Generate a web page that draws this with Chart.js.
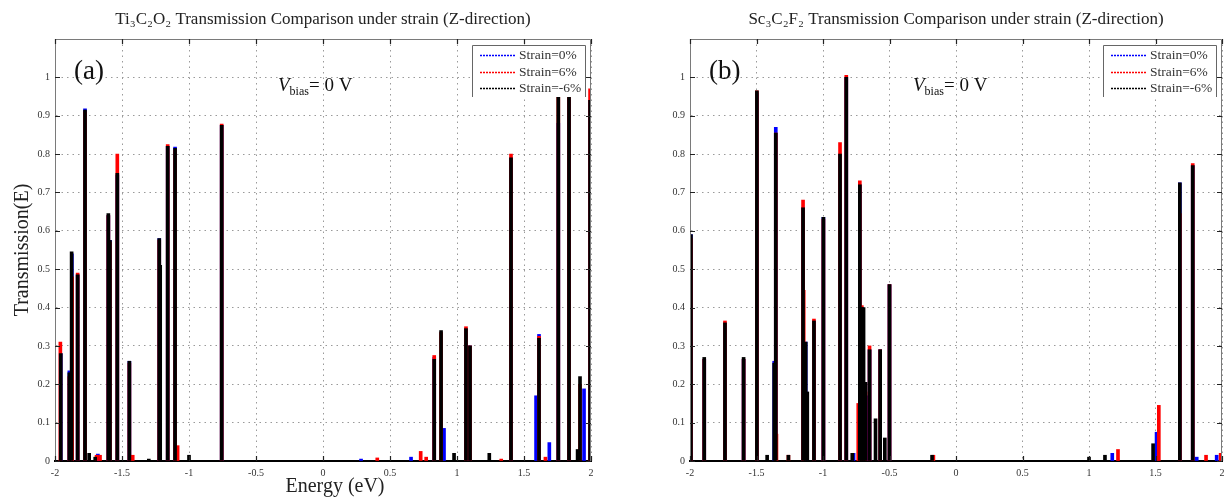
<!DOCTYPE html>
<html><head><meta charset="utf-8">
<script src="https://cdn.jsdelivr.net/npm/chart.js@4.4.1/dist/chart.umd.min.js"></script>
<style>
html,body{margin:0;padding:0;background:#fff;width:1225px;height:498px;overflow:hidden}
#wrapA{position:absolute;left:0;top:0;width:612px;height:498px}
#wrapB{position:absolute;left:612px;top:0;width:613px;height:498px}
</style></head><body>
<div id="wrapA"><canvas id="chartA" width="612" height="498"></canvas></div>
<div id="wrapB"><canvas id="chartB" width="613" height="498"></canvas></div>
<script>
// ---------- text ----------
const seriesLabels = ['Strain=0%', 'Strain=6%', 'Strain=-6%'];
const titleA = 'Ti\u2083C\u2082O\u2082 Transmission Comparison under strain (Z-direction)';
const titleB = 'Sc\u2083C\u2082F\u2082 Transmission Comparison under strain (Z-direction)';
const panelA = '(a)';
const panelB = '(b)';
const xAxisTitle = 'Energy (eV)';
const yAxisTitle = 'Transmission(E)';

// ---------- Ti3C2O2 : peak energies (eV) and transmission ----------
const tiE_s0 = [-1.957,-1.893,-1.874,-1.831,-1.776,-1.68,-1.602,-1.590,-1.535,-1.445,-1.222,-1.159,-1.104,-0.756,0.284,0.657,0.83,0.903,1.067,1.097,1.403,1.59,1.612,1.689,1.756,1.836,1.948,1.993];
const tiT_s0 = [0.28,0.235,0.54,0.485,0.918,0.018,0.64,0.575,0.745,0.26,0.58,0.82,0.818,0.875,0.005,0.01,0.27,0.085,0.345,0.30,0.79,0.17,0.33,0.048,0.88,0.945,0.188,0.94];

const tiE_s6 = [-1.960,-1.893,-1.872,-1.831,-1.776,-1.69,-1.664,-1.602,-1.590,-1.535,-1.445,-1.42,-1.222,-1.159,-1.104,-1.085,-0.756,0.405,0.729,0.77,0.83,0.881,1.067,1.097,1.33,1.403,1.612,1.66,1.756,1.836,1.918,1.993];
const tiT_s6 = [0.31,0.22,0.48,0.49,0.91,0.015,0.015,0.64,0.57,0.80,0.255,0.015,0.575,0.825,0.81,0.04,0.878,0.008,0.025,0.01,0.275,0.335,0.35,0.30,0.005,0.80,0.325,0.01,0.95,0.95,0.20,0.97];

const tiE_sm6 = [-1.957,-1.893,-1.876,-1.831,-1.776,-1.745,-1.70,-1.602,-1.590,-1.535,-1.445,-1.30,-1.222,-1.215,-1.159,-1.104,-1.00,-0.756,0.83,0.881,0.978,1.067,1.097,1.241,1.403,1.612,1.756,1.836,1.90,1.918,1.993];
const tiT_sm6 = [0.28,0.23,0.545,0.485,0.915,0.02,0.01,0.645,0.575,0.75,0.26,0.005,0.58,0.51,0.82,0.815,0.015,0.875,0.265,0.34,0.02,0.345,0.30,0.02,0.79,0.32,0.95,0.95,0.03,0.22,0.94];

// ---------- Sc3C2F2 : peak energies (eV) and transmission ----------
const scE_s0 = [-1.993,-1.893,-1.737,-1.597,-1.497,-1.367,-1.355,-1.15,-1.13,-1.068,-0.997,-0.872,-0.825,-0.77,-0.723,-0.708,-0.67,-0.65,-0.57,-0.5,1.175,1.508,1.683,1.78,1.81,1.96];
const scT_s0 = [0.59,0.265,0.36,0.265,0.96,0.26,0.87,0.66,0.31,0.365,0.635,0.80,1.0,0.02,0.72,0.40,0.17,0.29,0.29,0.46,0.02,0.075,0.725,0.77,0.01,0.015];

const scE_s6 = [-1.993,-1.893,-1.737,-1.597,-1.497,-1.355,-1.35,-1.26,-1.15,-1.145,-1.068,-0.997,-0.872,-0.825,-0.735,-0.723,-0.708,-0.68,-0.65,-0.57,-0.5,-0.17,1.218,1.525,1.683,1.78,1.88,1.99];
const scT_s6 = [0.58,0.265,0.365,0.265,0.965,0.855,0.07,0.015,0.68,0.445,0.37,0.63,0.83,1.005,0.15,0.73,0.405,0.18,0.30,0.29,0.46,0.015,0.03,0.145,0.645,0.775,0.015,0.02];

const scE_sm6 = [-1.993,-1.893,-1.737,-1.597,-1.497,-1.42,-1.367,-1.355,-1.26,-1.15,-1.13,-1.118,-1.068,-0.997,-0.872,-0.825,-0.78,-0.723,-0.708,-0.695,-0.68,-0.65,-0.605,-0.57,-0.535,-0.5,-0.18,1.0,1.12,1.482,1.683,1.78];
const scT_sm6 = [0.59,0.27,0.36,0.27,0.965,0.015,0.255,0.855,0.015,0.66,0.31,0.18,0.365,0.635,0.80,1.0,0.02,0.72,0.40,0.40,0.205,0.29,0.11,0.29,0.06,0.46,0.015,0.01,0.015,0.045,0.725,0.77];

// ---------- axis ranges ----------
const xMin = -2, xMax = 2, xStep = 0.5;
const yMin = 0, yMax = 1.1, yStep = 0.1, yTickTop = 1.0;

// ---------- styles ----------
const seriesColors = ['#0000ff', '#ff0000', '#000000'];
const serif = "'Liberation Serif', 'DejaVu Serif', serif";

function pts(E, T) { return E.map((e, i) => ({ x: e, y: T[i] })); }
function fmt(v) { return String(Number(Number(v).toFixed(2))); }

const decorPlugin = {
  id: 'decor',
  afterDatasetsDraw(chart, args, o) {
    const { ctx, chartArea: a, scales: { x, y } } = chart;
    ctx.save();
    ctx.strokeStyle = '#7a7a7a'; ctx.lineWidth = 1;
    ctx.beginPath();
    ctx.moveTo(a.left + 0.5, a.bottom); ctx.lineTo(a.left + 0.5, a.top + 0.5);
    ctx.lineTo(a.right - 0.5, a.top + 0.5); ctx.lineTo(a.right - 0.5, a.bottom);
    ctx.stroke();
    ctx.strokeStyle = '#222'; ctx.lineWidth = 1.2;
    ctx.beginPath();
    x.ticks.forEach(t => {
      const px = Math.round(x.getPixelForValue(t.value)) + 0.5;
      ctx.moveTo(px, a.top); ctx.lineTo(px, a.top + 5);
      ctx.moveTo(px, a.bottom); ctx.lineTo(px, a.bottom - 5);
    });
    y.ticks.forEach(t => {
      const py = Math.round(y.getPixelForValue(t.value)) + 0.5;
      ctx.moveTo(a.left, py); ctx.lineTo(a.left + 5, py);
      ctx.moveTo(a.right, py); ctx.lineTo(a.right - 5, py);
    });
    ctx.stroke();
    ctx.restore();
  },
  afterDraw(chart, args, o) {
    const { ctx, chartArea: a, scales: { x } } = chart;
    ctx.save();
    // chart title
    ctx.fillStyle = '#222';
    ctx.font = '17px ' + serif;
    ctx.textAlign = 'center'; ctx.textBaseline = 'middle';
    ctx.fillText(o.title, (a.left + a.right) / 2, 20);
    // x axis title
    if (o.xTitle) {
      ctx.font = '20px ' + serif;
      ctx.fillText(xAxisTitle, x.getPixelForValue(0) + 12, 487);
    }
    // panel label
    ctx.font = '27px ' + serif;
    ctx.textAlign = 'left'; ctx.textBaseline = 'alphabetic';
    ctx.fillStyle = '#111';
    ctx.fillText(o.panel, a.left + 19, 79);
    // V_bias = 0 V
    let vx = a.left + 223; const vy = 91;
    ctx.font = 'italic 19px ' + serif;
    ctx.fillText('V', vx, vy); vx += ctx.measureText('V').width;
    ctx.font = '12px ' + serif;
    ctx.fillText('bias', vx, vy + 4); vx += ctx.measureText('bias').width;
    ctx.font = '19px ' + serif;
    ctx.fillText('= 0 V', vx, vy);
    // legend
    const bl = a.right - 119, br = a.right - 5, bt = 45, bb = 97;
    ctx.fillStyle = '#fff';
    ctx.fillRect(bl, bt, br - bl, bb - bt);
    ctx.strokeStyle = '#666'; ctx.lineWidth = 1;
    ctx.beginPath();
    ctx.moveTo(bl + 0.5, bb); ctx.lineTo(bl + 0.5, bt + 0.5); ctx.lineTo(br - 0.5, bt + 0.5); ctx.lineTo(br - 0.5, bb);
    ctx.stroke();
    const rows = [55, 72, 88];
    chart.data.datasets.slice().sort((p, q) => p.legendIndex - q.legendIndex).forEach((ds, i) => {
      const yy = rows[i];
      ctx.strokeStyle = ds.backgroundColor; ctx.lineWidth = 1.6;
      ctx.setLineDash([2, 1]);
      ctx.beginPath(); ctx.moveTo(bl + 8, yy + 0.5); ctx.lineTo(bl + 44, yy + 0.5); ctx.stroke();
      ctx.setLineDash([]);
      ctx.fillStyle = '#333';
      ctx.font = '13.5px ' + serif;
      ctx.textBaseline = 'middle';
      ctx.fillText(ds.label, bl + 47, yy);
    });
    ctx.restore();
  }
};

function makeChart(id, series, o) {
  const datasets = series.map((s, i) => ({
    label: seriesLabels[i],
    legendIndex: i,
    data: pts(s[0], s[1]),
    backgroundColor: seriesColors[i],
    borderWidth: 0,
    barThickness: 3,
    grouped: false,
    order: 3 - i
  }));
  return new Chart(document.getElementById(id), {
    type: 'bar',
    data: { datasets },
    plugins: [decorPlugin],
    options: {
      responsive: false,
      animation: false,
      devicePixelRatio: 1,
      layout: { padding: { top: 39, right: o.padRight, left: 0, bottom: 0 } },
      plugins: {
        legend: { display: false },
        title: { display: false },
        tooltip: { enabled: false },
        decor: { title: o.title, panel: o.panel, xTitle: o.xTitle }
      },
      scales: {
        x: {
          type: 'linear', min: xMin, max: xMax, offset: false,
          ticks: { stepSize: xStep, padding: 6, color: '#333', font: { family: serif, size: 10 }, callback: v => fmt(v) },
          grid: { color: '#9a9a9a', lineWidth: 1, drawTicks: false, offset: false },
          border: { color: '#000', width: 2, dash: [1.5, 4] },
          afterFit: s => { s.height = 37; s.paddingLeft = 0; s.paddingRight = 0; }
        },
        y: {
          min: yMin, max: yMax,
          ticks: { stepSize: yStep, padding: 5, color: '#333', font: { family: serif, size: 10 }, callback: v => fmt(v) },
          afterBuildTicks: s => { s.ticks = s.ticks.filter(t => t.value <= yTickTop + 1e-9); },
          grid: { color: '#9a9a9a', lineWidth: 1, drawTicks: false },
          border: { color: '#7a7a7a', width: 1, dash: [1.5, 4] },
          title: { display: o.yTitle, text: yAxisTitle, color: '#222', font: { family: serif, size: 20 }, padding: { top: 11, bottom: 0 } },
          afterFit: s => { s.width = o.yWidth; }
        }
      }
    }
  });
}

makeChart('chartA', [[tiE_s0, tiT_s0], [tiE_s6, tiT_s6], [tiE_sm6, tiT_sm6]],
  { title: titleA, panel: panelA, padRight: 21, yWidth: 55, xTitle: true, yTitle: true });
makeChart('chartB', [[scE_s0, scT_s0], [scE_s6, scT_s6], [scE_sm6, scT_sm6]],
  { title: titleB, panel: panelB, padRight: 3, yWidth: 78, xTitle: false, yTitle: false });
</script>
</body></html>
